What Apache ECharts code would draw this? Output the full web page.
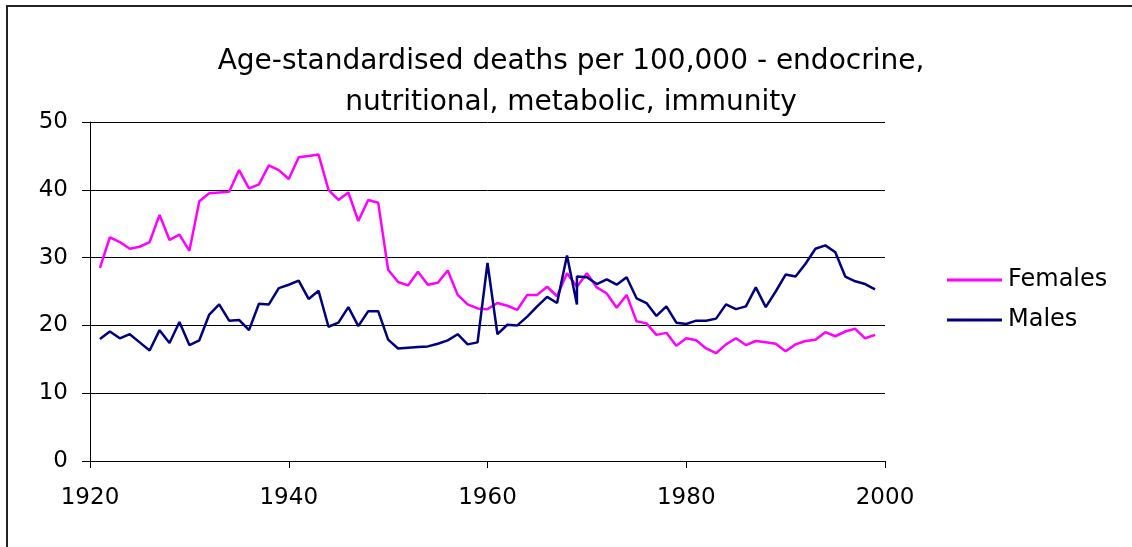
<!DOCTYPE html>
<html>
<head>
<meta charset="utf-8">
<script src="https://cdn.jsdelivr.net/npm/echarts@6/dist/echarts.min.js"></script>
<style>
html,body{margin:0;padding:0;background:#fff;}
#chart{width:1132px;height:547px;}
</style>
</head>
<body>
<div id="chart"></div>
<script>
const titleText = 'Age-standardised deaths per 100,000 - endocrine,\nnutritional, metabolic, immunity';
const seriesNames = ['Females', 'Males'];

const femaleYears = [1921,1922,1923,1924,1925,1926,1927,1928,1929,1930,
  1931,1932,1933,1934,1935,1936,1937,1938,1939,1940,
  1941,1942,1943,1944,1945,1946,1947,1948,1949,1950,
  1951,1952,1953,1954,1955,1956,1957,1958,1959,1960,
  1961,1962,1963,1964,1965,1966,1967,1968,1969,1970,
  1971,1972,1973,1974,1975,1976,1977,1978,1979,1980,
  1981,1982,1983,1984,1985,1986,1987,1988,1989,1990,
  1991,1992,1993,1994,1995,1996,1997,1998,1999];
const females = [28.5,33.0,32.3,31.3,31.6,32.3,36.3,32.6,33.4,31.0,
  38.3,39.5,39.6,39.7,42.9,40.2,40.8,43.6,42.9,41.6,
  44.8,45.0,45.2,40.0,38.5,39.6,35.4,38.5,38.1,28.2,
  26.4,25.9,27.9,26.0,26.3,28.1,24.5,23.1,22.5,22.4,
  23.3,22.9,22.3,24.5,24.5,25.7,24.3,27.7,25.7,27.7,
  25.6,24.7,22.6,24.5,20.6,20.3,18.6,18.9,17.0,18.1,
  17.8,16.6,15.9,17.2,18.1,17.1,17.7,17.5,17.3,16.2,
  17.2,17.7,17.9,19.0,18.4,19.1,19.5,18.1,18.6];

// 1969 appears twice for males (series break)
const maleYears = [1921,1922,1923,1924,1925,1926,1927,1928,1929,1930,
  1931,1932,1933,1934,1935,1936,1937,1938,1939,1940,
  1941,1942,1943,1944,1945,1946,1947,1948,1949,1950,
  1951,1952,1953,1954,1955,1956,1957,1958,1959,1960,
  1961,1962,1963,1964,1965,1966,1967,1968,1969,1969,1970,
  1971,1972,1973,1974,1975,1976,1977,1978,1979,1980,
  1981,1982,1983,1984,1985,1986,1987,1988,1989,1990,
  1991,1992,1993,1994,1995,1996,1997,1998,1999];
const males = [18.0,19.1,18.1,18.7,17.5,16.3,19.3,17.4,20.5,17.1,
  17.8,21.6,23.1,20.7,20.8,19.3,23.2,23.1,25.5,26.0,
  26.6,23.9,25.1,19.8,20.4,22.7,19.9,22.1,22.1,17.9,
  16.6,16.7,16.8,16.9,17.3,17.8,18.7,17.2,17.5,29.2,
  18.7,20.1,20.0,21.3,22.8,24.2,23.3,30.3,23.1,27.2,27.1,
  26.1,26.8,26.0,27.1,24.0,23.3,21.4,22.8,20.4,20.2,
  20.7,20.7,21.0,23.1,22.4,22.8,25.6,22.7,25.0,27.5,
  27.2,29.1,31.3,31.8,30.8,27.2,26.5,26.1,25.3];

const xTicks = [1920, 1940, 1960, 1980, 2000];
const yTicks = [0, 10, 20, 30, 40, 50];

const pair = (xs, ys) => xs.map((x, i) => [x, ys[i]]);
const FONT = '"DejaVu Sans", Verdana, sans-serif';

const chart = echarts.init(document.getElementById('chart'), null, {renderer: 'canvas'});
chart.setOption({
  animation: false,
  backgroundColor: '#ffffff',
  graphic: [{
    type: 'rect',
    shape: {x: 7, y: 6, width: 1300, height: 700},
    style: {fill: 'none', stroke: '#222', lineWidth: 2},
    silent: true
  }],
  title: {
    text: titleText,
    left: 571,
    textAlign: 'center',
    top: 41,
    padding: 0,
    textStyle: {fontFamily: FONT, fontSize: 28, fontWeight: 'normal', color: '#000', lineHeight: 41}
  },
  legend: {
    orient: 'vertical',
    left: 947,
    top: 268,
    padding: 0,
    icon: 'rect',
    itemWidth: 55,
    itemHeight: 3,
    itemGap: 16,
    data: seriesNames,
    textStyle: {fontFamily: FONT, fontSize: 24, color: '#000', lineHeight: 24, padding: [0, 0, 0, 1]}
  },
  grid: {left: 90, right: 247, top: 122, bottom: 86},
  xAxis: {
    type: 'value',
    min: xTicks[0],
    max: xTicks[xTicks.length - 1],
    interval: 20,
    axisLine: {show: true, lineStyle: {color: '#000', width: 1}},
    axisTick: {show: true, length: 7, lineStyle: {color: '#000'}},
    axisLabel: {fontFamily: FONT, fontSize: 23, color: '#000', margin: 26, formatter: v => String(v)},
    splitLine: {show: false}
  },
  yAxis: {
    type: 'value',
    min: yTicks[0],
    max: yTicks[yTicks.length - 1],
    interval: 10,
    axisLine: {show: true, lineStyle: {color: '#000', width: 1}},
    axisTick: {show: true, length: 8, lineStyle: {color: '#000'}},
    axisLabel: {fontFamily: FONT, fontSize: 23, color: '#000', margin: 22},
    splitLine: {show: true, lineStyle: {color: '#000', width: 1}}
  },
  series: [
    {
      name: seriesNames[0],
      type: 'line',
      data: pair(femaleYears, females),
      symbol: 'none',
      color: '#FF00FF',
      lineStyle: {color: '#FF00FF', width: 2.5}
    },
    {
      name: seriesNames[1],
      type: 'line',
      data: pair(maleYears, males),
      symbol: 'none',
      color: '#000080',
      lineStyle: {color: '#000080', width: 2.5}
    }
  ]
});
</script>
</body>
</html>
